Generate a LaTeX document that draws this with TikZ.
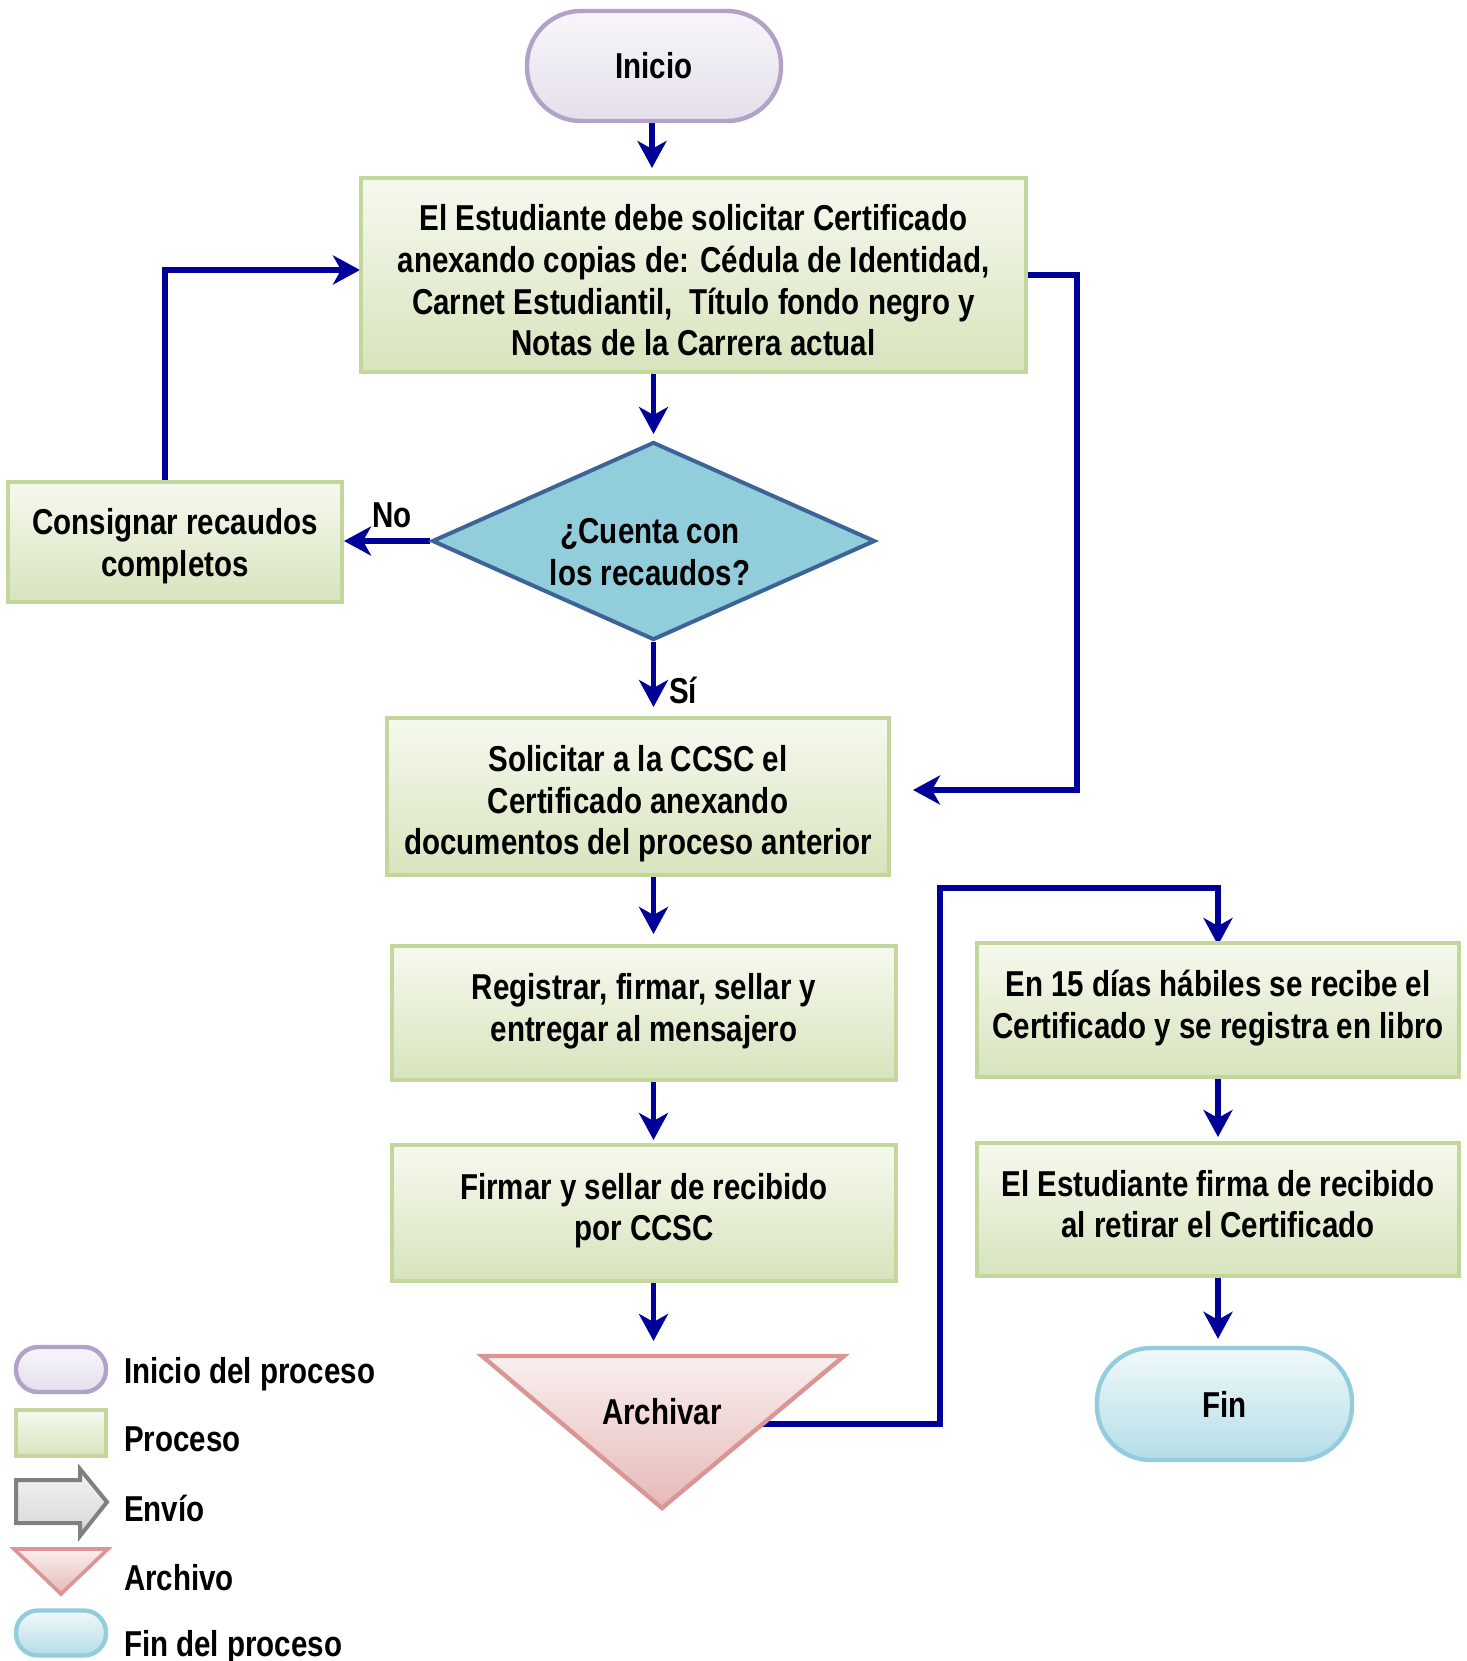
\documentclass[tikz,border=0pt]{standalone}
\usepackage{fontspec}
\setmainfont{Liberation Sans}[FakeStretch=0.82]
\usetikzlibrary{arrows.meta,shapes.geometric,backgrounds}
\definecolor{arrowc}{RGB}{0,0,153}
\definecolor{iniB}{HTML}{B3A2C7}
\definecolor{iniT}{HTML}{F8F6FA}
\definecolor{iniD}{HTML}{E4DFEC}
\definecolor{procB}{HTML}{C3D69B}
\definecolor{procT}{HTML}{F6F9EF}
\definecolor{procD}{HTML}{D7E4BD}
\definecolor{decF}{HTML}{92CDDC}
\definecolor{decB}{HTML}{3C6496}
\definecolor{arcB}{HTML}{D99694}
\definecolor{arcT}{HTML}{F9EFEF}
\definecolor{arcD}{HTML}{E6B9B8}
\definecolor{finB}{HTML}{93CDDD}
\definecolor{finT}{HTML}{F1F9FB}
\definecolor{finD}{HTML}{B4DDE7}
\definecolor{envB}{HTML}{808080}
\definecolor{envT}{HTML}{F4F4F4}
\definecolor{envD}{HTML}{D6D6D6}
\tikzset{
  txt/.style={font=\fontsize{18}{20.8}\selectfont\bfseries, align=center, text=black},
  arr/.style={draw=arrowc, line width=2.6pt, -{Stealth[length=13.5pt,width=14.5pt,inset=4pt]}},
  startn/.style={txt, draw=iniB, line width=2.2pt, top color=iniT, bottom color=iniD, rounded corners=27pt, inner sep=0pt},
  endn/.style={txt, draw=finB, line width=2.2pt, top color=finT, bottom color=finD, rounded corners=27pt, inner sep=0pt},
  proc/.style={draw=procB, line width=2pt, top color=procT, bottom color=procD, inner sep=0pt},
  decn/.style={diamond, draw=decB, line width=2pt, fill=decF, inner sep=0pt},
}
\begin{document}
\begin{tikzpicture}[x=0.5pt,y=-0.5pt]
\useasboundingbox (0,0) rectangle (1467,1661);
% main nodes
\node[startn, minimum width=127pt, minimum height=55pt] (ini) at (654,66) {Inicio};
\node[proc, minimum width=332.5pt, minimum height=97pt] (box1) at (693.5,275) {};
\node[txt] (box1t) at (693.5,280.5)
  {El Estudiante debe solicitar Certificado\\anexando copias de: Cédula de Identidad,\\Carnet Estudiantil,\ \ Título fondo negro y\\Notas de la Carrera actual};
\node[decn, minimum width=221.5pt, minimum height=99pt] (dec) at (653.5,541) {};
\node[txt] (dect) at (650,552) {¿Cuenta con\\los recaudos?};
\node[proc, minimum width=167pt, minimum height=60pt] (cons) at (175,542) {};
\node[txt] (const) at (175,546) {Consignar recaudos\\completos};
\node[proc, minimum width=251pt, minimum height=78.5pt] (sol) at (638,796.5) {};
\node[txt] (solt) at (638,804)
  {Solicitar a la CCSC el\\Certificado anexando\\documentos del proceso anterior};
\node[proc, minimum width=252pt, minimum height=67pt] (reg) at (644,1013) {};
\node[txt] (regt) at (644,1011) {Registrar, firmar, sellar y\\entregar al mensajero};
\node[proc, minimum width=252pt, minimum height=68pt] (firm) at (644,1213) {};
\node[txt] (firmt) at (644,1210.5) {Firmar y sellar de recibido\\por CCSC};
\path[draw=arcB, line width=2.2pt, top color=arcT, bottom color=arcD, line join=miter]
  (482,1356) -- (844,1356) -- (662,1508) -- cycle;
\coordinate (archtop) at (653.5,1356);
\node[txt] (arch) at (662,1412) {Archivar};
\coordinate (archc) at (662,1424);
\node[proc, minimum width=241pt, minimum height=67pt] (en) at (1218,1010) {};
\node[txt] (ent) at (1218,1008) {En 15 días hábiles se recibe el\\Certificado y se registra en libro};
\node[proc, minimum width=241pt, minimum height=66.5pt] (fir2) at (1218,1209.5) {};
\node[txt] (fir2t) at (1218,1204) {El Estudiante firma de recibido\\al retirar el Certificado};
\node[endn, minimum width=127.5pt, minimum height=56pt] (fin) at (1224.5,1404) {Fin};
% labels
\node[txt] (no) at (392,515) {No};
\node[txt] (si) at (683,690) {Sí};
% helper coordinates
\coordinate (colx) at (653.5,0);
\coordinate (lx) at (165,270);
\coordinate (rl) at (1077,0);
\coordinate (rlb) at (1077,790);
\coordinate (mid) at (940,888);
% connectors
\begin{scope}[on background layer]
\draw[arr, shorten >=4pt] (ini.south -| 652,0) -- (box1.north -| 652,0);
\draw[arr, shorten >=3pt] (dec.north |- box1.south) -- (dec.north);
\draw[arr, shorten >=0pt] (dec.west) -- (dec.west -| cons.east);
\draw[arr, shorten >=4.5pt] (dec.south) -- (dec.south |- sol.north);
\draw[arr, shorten >=-0.5pt] (lx |- cons.north) -- (lx) -- (lx -| box1.west);
\draw[arr, shorten >=11pt] (box1.east) -- (box1.east -| rl) -- (rlb) -- (rlb -| sol.east);
\draw[arr, shorten >=5pt] (colx |- sol.south) -- (colx |- reg.north);
\draw[arr, shorten >=1.5pt] (colx |- reg.south) -- (colx |- firm.north);
\draw[arr, shorten >=7.5pt] (colx |- firm.south) -- (archtop);
\draw[arr, shorten >=-2pt] (archc) -| (mid) -| (en.north);
\draw[arr, shorten >=2pt] (en.south) -- (fir2.north);
\draw[arr, shorten >=3.5pt] (fir2.south) -- (fir2.south |- fin.north);
\end{scope}
% legend
\node[startn, rounded corners=11pt, minimum width=45pt, minimum height=22.5pt] (lg1) at (61,1369.5) {};
\node[txt, anchor=west] (lt1) at (117,1374) {Inicio del proceso};
\node[proc, line width=1.8pt, minimum width=45pt, minimum height=23pt] (lg2) at (61,1433) {};
\node[txt, anchor=west] (lt2) at (117,1439.5) {Proceso};
\path[draw=envB, line width=2pt, top color=envT, bottom color=envD]
  (16,1480) -- (80,1480) -- (80,1469) -- (107,1502) -- (80,1536) -- (80,1523) -- (16,1523) -- cycle;
\node[txt, anchor=west] (lt3) at (117,1508.5) {Envío};
\path[draw=arcB, line width=1.8pt, top color=arcT, bottom color=arcD]
  (14,1549) -- (108,1549) -- (61,1594) -- cycle;
\node[txt, anchor=west] (lt4) at (117,1577.5) {Archivo};
\node[endn, rounded corners=11pt, minimum width=45pt, minimum height=22.5pt] (lg5) at (61,1633) {};
\node[txt, anchor=west] (lt5) at (117,1647) {Fin del proceso};
\end{tikzpicture}
\end{document}
